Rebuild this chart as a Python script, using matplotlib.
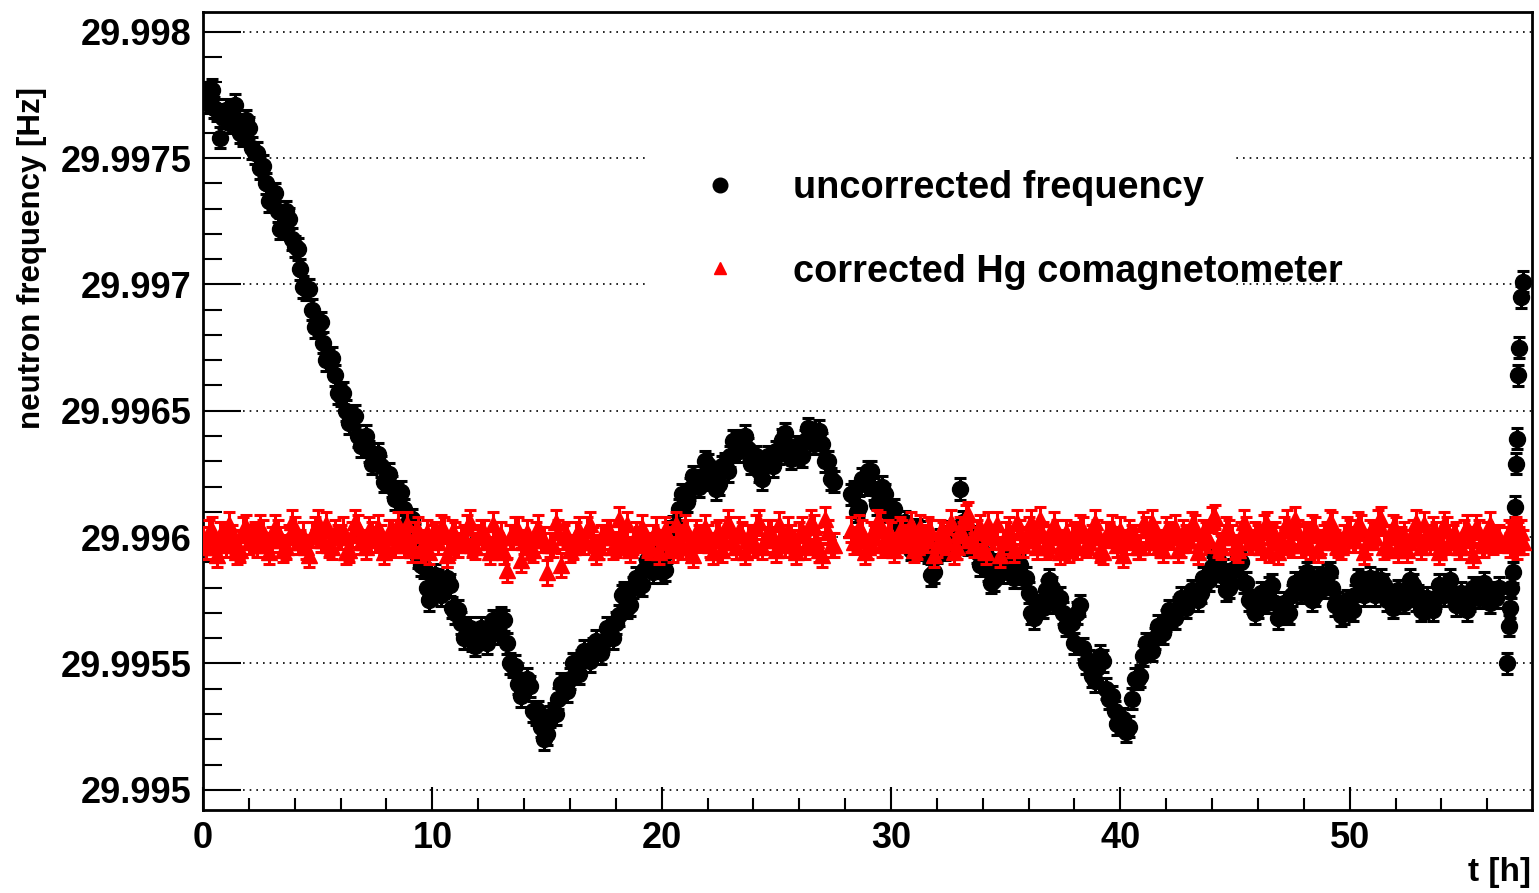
import matplotlib
matplotlib.use("Agg")
import matplotlib.pyplot as plt
from matplotlib.lines import Line2D
from matplotlib.patches import Rectangle
from matplotlib.ticker import MultipleLocator, FuncFormatter
import numpy as np

# time of each cycle [h]  (first set of cycles)
t_hours = [
    0.0, 0.25, 0.5, 0.75, 1.0, 1.25, 1.5, 1.75, 2.0, 2.25,
    2.5, 2.75, 3.0, 3.25, 3.5, 3.75, 4.0, 4.25, 4.5, 4.75,
    5.0, 5.25, 5.5, 5.75, 6.0, 6.25, 6.5, 6.75, 7.0, 7.25,
    7.5, 7.75, 8.0, 8.25, 8.5, 8.75, 9.0, 9.25, 9.5, 9.75,
    10.0, 10.25, 10.5, 10.75, 11.0, 11.25, 11.5, 11.75, 12.0, 12.25,
    12.5, 12.75, 13.0, 13.25, 13.5, 13.75, 14.0, 14.25, 14.5, 14.75,
    15.0, 15.25, 15.5, 15.75, 16.0, 16.25, 16.5, 16.75, 17.0, 17.25,
    17.5, 17.75, 18.0, 18.25, 18.5, 18.75, 19.0, 19.25, 19.5, 19.75,
    20.0, 20.25, 20.5, 20.75, 21.0, 21.25, 21.5, 21.75, 22.0, 22.25,
    22.5, 22.75, 23.0, 23.25, 23.5, 23.75, 24.0, 24.25, 24.5, 24.75,
    25.0, 25.25, 25.5, 25.75, 26.0, 26.25, 26.5, 26.75, 27.0, 27.25,
    27.5,
    28.25, 28.5, 28.75, 29.0, 29.25, 29.5, 29.75, 30.0, 30.25, 30.5,
    30.75, 31.0, 31.25, 31.5, 31.75, 32.0, 32.25, 32.5, 32.75, 33.0,
    33.25, 33.5, 33.75, 34.0, 34.25, 34.5, 34.75, 35.0, 35.25, 35.5,
    35.75, 36.0, 36.25, 36.5, 36.75, 37.0, 37.25, 37.5, 37.75, 38.0,
    38.25, 38.5, 38.75, 39.0, 39.25, 39.5, 39.75, 40.0, 40.25, 40.5,
    40.75, 41.0, 41.25, 41.5, 41.75, 42.0, 42.25, 42.5, 42.75, 43.0,
    43.25, 43.5, 43.75, 44.0, 44.25, 44.5, 44.75, 45.0, 45.25, 45.5,
    45.75, 46.0, 46.25, 46.5, 46.75, 47.0, 47.25, 47.5, 47.75, 48.0,
    48.25, 48.5, 48.75, 49.0, 49.25, 49.5, 49.75, 50.0, 50.25, 50.5,
    50.75, 51.0, 51.25, 51.5, 51.75, 52.0, 52.25, 52.5, 52.75, 53.0,
    53.25, 53.5, 53.75, 54.0, 54.25, 54.5, 54.75, 55.0, 55.25, 55.5,
    55.75, 56.0, 56.25, 56.5,
    56.85, 56.95, 57.0, 57.05, 57.1, 57.2, 57.25, 57.3, 57.35, 57.4, 57.45, 57.55,
]

# second set of cycles, in between the first ones
t_hours_b = [
    0.125, 0.375, 0.625, 0.875, 1.125, 1.375, 1.625, 1.875, 2.125, 2.375,
    2.625, 2.875, 3.125, 3.375, 3.625, 3.875, 4.125, 4.375, 4.625, 4.875,
    5.125, 5.375, 5.625, 5.875, 6.125, 6.375, 6.625, 6.875, 7.125, 7.375,
    7.625, 7.875, 8.125, 8.375, 8.625, 8.875, 9.125, 9.375, 9.625, 9.875,
    10.125, 10.375, 10.625, 10.875, 11.125, 11.375, 11.625, 11.875, 12.125, 12.375,
    12.625, 12.875, 13.125, 13.375, 13.625, 13.875, 14.125, 14.375, 14.625, 14.875,
    15.125, 15.375, 15.625, 15.875, 16.125, 16.375, 16.625, 16.875, 17.125, 17.375,
    17.625, 17.875, 18.125, 18.375, 18.625, 18.875, 19.125, 19.375, 19.625, 19.875,
    20.125, 20.375, 20.625, 20.875, 21.125, 21.375, 21.625, 21.875, 22.125, 22.375,
    22.625, 22.875, 23.125, 23.375, 23.625, 23.875, 24.125, 24.375, 24.625, 24.875,
    25.125, 25.375, 25.625, 25.875, 26.125, 26.375, 26.625, 26.875, 27.125, 27.375,
    28.375, 28.625, 28.875, 29.125, 29.375, 29.625, 29.875, 30.125, 30.375, 30.625,
    30.875, 31.125, 31.375, 31.625, 31.875, 32.125, 32.375, 32.625, 32.875, 33.125,
    33.375, 33.625, 33.875, 34.125, 34.375, 34.625, 34.875, 35.125, 35.375, 35.625,
    35.875, 36.125, 36.375, 36.625, 36.875, 37.125, 37.375, 37.625, 37.875, 38.125,
    38.375, 38.625, 38.875, 39.125, 39.375, 39.625, 39.875, 40.125, 40.375, 40.625,
    40.875, 41.125, 41.375, 41.625, 41.875, 42.125, 42.375, 42.625, 42.875, 43.125,
    43.375, 43.625, 43.875, 44.125, 44.375, 44.625, 44.875, 45.125, 45.375, 45.625,
    45.875, 46.125, 46.375, 46.625, 46.875, 47.125, 47.375, 47.625, 47.875, 48.125,
    48.375, 48.625, 48.875, 49.125, 49.375, 49.625, 49.875, 50.125, 50.375, 50.625,
    50.875, 51.125, 51.375, 51.625, 51.875, 52.125, 52.375, 52.625, 52.875, 53.125,
    53.375, 53.625, 53.875, 54.125, 54.375, 54.625, 54.875, 55.125, 55.375, 55.625,
    55.875, 56.125, 56.375,
]

# uncorrected neutron frequency, offset from 29.996 Hz in micro-Hz
uncorr_uhz = [
    1750, 1760, 1700, 1580, 1690, 1680, 1650, 1590, 1620, 1520,
    1460, 1400, 1340, 1290, 1230, 1260, 1150, 1060, 980, 900,
    840, 770, 700, 640, 560, 500, 470, 400, 380, 340,
    310, 280, 230, 200, 170, 110, 60, 10, -110, -200,
    -220, -170, -200, -190, -300, -340, -380, -410, -390, -400,
    -370, -350, -320, -420, -510, -580, -600, -590, -700, -750,
    -780, -700, -640, -590, -560, -520, -490, -470, -440, -440,
    -410, -380, -340, -230, -280, -200, -180, -130, -110, -90,
    -140, -60, 40, 110, 150, 190, 220, 240, 285, 240,
    210, 290, 320, 370, 380, 350, 310, 260, 280, 300,
    340, 385, 360, 330, 330, 380, 410, 400, 370, 300,
    220,
    170, 100, 230, 260, 190, 150, 170, 100, 60, 40,
    10, -30, 20, -40, -150, -60, -20, 0, -40, 190,
    40, -20, -60, -80, -130, -170, -120, -90, -110, -140,
    -160, -220, -320, -280, -210, -200, -250, -300, -330, -420,
    -270, -500, -550, -520, -490, -640, -690, -730, -770, -640,
    -560, -470, -440, -400, -370, -330, -310, -280, -260, -250,
    -230, -220, -160, -120, -90, -150, -200, -130, -100, -180,
    -260, -280, -240, -200, -260, -300, -290, -230, -200, -160,
    -190, -230, -170, -150, -200, -260, -300, -280, -230, -180,
    -200, -180, -210, -190, -230, -260, -240, -210, -190, -230,
    -280, -270, -240, -210, -190, -220, -240, -260, -250, -210,
    -200, -230, -220, -200,
    -500, -350, -280, -200, -140, 120, 290, 390, 640, 750, 950, 1010,
]

uncorr_uhz_b = [
    1720, 1770, 1690, 1660, 1640, 1710, 1600, 1650, 1540, 1520,
    1470, 1330, 1360, 1220, 1290, 1180, 1140, 990, 980, 830,
    850, 700, 710, 570, 570, 450, 480, 360, 400, 290,
    330, 220, 250, 150, 180, 50, 70, -80, -120, -250,
    -150, -230, -160, -280, -290, -400, -360, -430, -360, -420,
    -330, -380, -330, -500, -510, -630, -560, -690, -690, -800,
    -710, -700, -580, -610, -500, -540, -450, -490, -410, -460,
    -360, -400, -310, -220, -270, -160, -190, -90, -140, -80,
    -130, 20, 40, 170, 140, 240, 200, 300, 230, 190,
    280, 260, 380, 340, 400, 290, 320, 230, 320, 280,
    330, 410, 310, 360, 320, 430, 370, 420, 300, 230,
    180, 120, 210, 260, 130, 200, 100, 110, 10, 60,
    -50, 30, -50, -60, -140, -10, -50, 20, 0, 60,
    -30, 0, -110, -70, -180, -110, -140, -60, -160, -110,
    -160, -300, -270, -280, -170, -260, -240, -350, -340, -300,
    -440, -490, -570, -470, -600, -630, -740, -720, -750, -560,
    -550, -420, -450, -350, -380, -290, -320, -240, -280, -210,
    -250, -160, -170, -70, -150, -210, -130, -80, -180, -250,
    -300, -220, -260, -190, -320, -260, -300, -180, -220, -140,
    -250, -160, -200, -140, -270, -310, -250, -290, -170, -230,
    -160, -230, -170, -250, -280, -210, -260, -170, -250, -290,
    -240, -290, -190, -230, -170, -270, -220, -290, -200, -240,
    -180, -260, -240,
]

# Hg-comagnetometer corrected frequency, offset from 29.996 Hz in micro-Hz
corr_uhz = [
    -10, 20, -40, 10, -30, 0, -60, 30, -20, 10,
    40, -30, -10, 20, -50, 0, 30, -20, -40, 10,
    60, -10, -30, 20, 0, -60, 10, 40, -20, 30,
    -10, 0, -40, 20, 50, -30, -10, 10, -50, 20,
    0, -20, 30, -40, 10, -10, 40, -30, 0, 20,
    -60, -20, 10, -130, 0, 30, -20, -40, 10, -10,
    -140, -30, 20, 0, -50, 10, -20, 30, -10, -40,
    0, 20, -30, 10, 50, -20, -10, 0, -40, 30,
    -20, 10, -50, 0, 40, -30, 20, -10, 0, -60,
    20, -20, 30, -40, 10, 0, -30, 60, -10, 20,
    -50, 0, 30, -20, 10, -40, 60, -10, -70, 20,
    -30,
    30, -10, 20, -40, 0, 50, -20, 10, -30, 20,
    0, -50, 40, -10, 20, -30, 10, -20, -60, 30,
    80, -10, 20, -40, 50, 0, -70, 10, -20, 60,
    -30, 30, -10, 70, -40, 0, 20, -20, -50, 10,
    40, -30, 0, 20, -60, 10, -10, 30, -20, 0,
    -40, 50, -20, 10, -30, 30, 0, -50, 20, -10,
    40, -20, 10, 70, -30, 0, 20, -40, 10, 30,
    -20, 0, 40, -50, 10, -10, 60, -30, 20, 0,
    -40, 30, -20, 10, 50, -30, 0, 20, -10, 40,
    -20, 10, 60, -40, 0, 30, -10, -50, 20, 0,
    50, -20, 10, -30, 30, 0, -40, 20, -10, 40,
    -30, 10, -20, 0,
    -10, 20, -30, 10, 0, -20, 30, -40, 10, -10, 20, -20,
]

corr_uhz_b = [
    -40, 30, -70, 10, 50, -20, -50, 40, 0, -30,
    20, -60, 40, -10, -40, 60, -20, 10, -70, 30,
    -10, 50, -40, 0, 30, -50, 60, -20, -40, 10,
    40, -60, 20, -30, 0, 50, -50, 30, -20, -60,
    10, 40, -70, 20, -30, 0, 60, -40, 20, -20,
    50, -30, -60, 0, 30, -90, 20, -50, 40, -10,
    -30, 60, -110, 10, -40, 30, -20, 50, -60, 0,
    20, -40, 70, -20, -50, 10, 40, -30, 0, -60,
    30, -10, 50, -40, 20, -70, 0, 40, -30, 10,
    -50, 60, -20, 30, -60, 0, 40, -40, 20, -10,
    50, -30, 0, -60, 30, -20, 40, -50, 70, -30,
    -20, 40, -60, 10, 60, -30, 20, -50, 30, -10,
    50, -40, 0, 30, -70, 20, -20, 60, -40, 10,
    90, -30, 40, -60, 0, 50, -20, 30, -50, 20,
    -10, 60, -40, 10, -30, 50, -60, 20, 0, -40,
    30, -20, 60, -50, 10, 40, -30, -70, 20, 0,
    -40, 30, 60, -20, -50, 10, 40, -30, 0, 50,
    -60, 20, -10, 80, -40, 30, 0, -50, 60, -20,
    10, -40, 50, 0, -60, 30, -20, 70, -30, 10,
    40, -50, 0, 60, -20, -40, 30, -10, 50, -60,
    20, 0, 70, -30, 40, -50, 10, -20, 60, -40,
    0, 30, -60, 50, -20, 10, -40, 40, -70, 20,
    -30, 50, -10,
]

base_freq = 29.996
err_uncorr = 42e-6
err_corr = 48e-6

t = np.array(t_hours + t_hours_b)
f_uncorr = base_freq + np.array(uncorr_uhz + uncorr_uhz_b) * 1e-6
f_corr = base_freq + np.array(corr_uhz + corr_uhz_b) * 1e-6

plt.rcParams['font.family'] = ['Liberation Sans', 'DejaVu Sans']
plt.rcParams['font.weight'] = 'bold'

fig = plt.figure(figsize=(15.39, 8.93), dpi=100)
ax = fig.add_axes([203 / 1539, 1 - 810 / 893, (1532 - 203) / 1539, (810 - 12) / 893])

ax.errorbar(t, f_uncorr, yerr=err_uncorr, fmt='o', color='black', ms=11.5,
            elinewidth=2.2, capsize=4, capthick=2.2, zorder=3)
ax.errorbar(t, f_corr, yerr=err_corr, fmt='^', color='#ff0000', ms=11.5,
            elinewidth=2.2, capsize=4, capthick=2.2, zorder=4)

ax.set_xlim(0, 57.95)
ax.set_ylim(29.99492, 29.998078)

ax.xaxis.set_major_locator(MultipleLocator(10))
ax.xaxis.set_minor_locator(MultipleLocator(2))
ax.yaxis.set_major_locator(MultipleLocator(0.0005))
ax.yaxis.set_minor_locator(MultipleLocator(0.0001))
ax.yaxis.set_major_formatter(FuncFormatter(lambda v, p: f'{v:.4f}'.rstrip('0')))

ax.tick_params(axis='both', which='both', direction='in', width=1.5,
               labelsize=26, top=False, right=False)
ax.tick_params(axis='y', which='major', length=27, pad=8)
ax.tick_params(axis='y', which='minor', length=14)
ax.tick_params(axis='x', which='major', length=16.5, pad=8)
ax.tick_params(axis='x', which='minor', length=8.5)
for lab in ax.get_xticklabels() + ax.get_yticklabels():
    lab.set_fontweight('bold')

ax.set_axisbelow(True)
ax.yaxis.grid(True, which='major', color='black', linestyle=(0, (1, 3)), linewidth=1.2)

for s in ax.spines.values():
    s.set_linewidth(2)

# white legend box (text runs past it, as in the original)
ax.add_patch(Rectangle((648 / 1539, 1 - 300 / 893), (1232 - 648) / 1539, 165 / 893,
                       transform=fig.transFigure, facecolor='white', edgecolor='none',
                       zorder=1, clip_on=False))

handles = [Line2D([], [], marker='o', color='black', ls='none', ms=10.5),
           Line2D([], [], marker='^', color='#ff0000', ls='none', ms=9)]
leg = ax.legend(handles, ['uncorrected frequency', 'corrected Hg comagnetometer'],
                loc='center left', bbox_to_anchor=(689.5 / 1539, 1 - 230 / 893),
                bbox_transform=fig.transFigure, frameon=False, fontsize=27.3,
                handlelength=1.61, handletextpad=1.12, labelspacing=1.24,
                borderpad=0, borderaxespad=0)
for txt in leg.get_texts():
    txt.set_fontweight('bold')
leg.set_zorder(10)

fig.text(32 / 1539, 1 - 258 / 893, 'neutron frequency [Hz]', rotation=90,
         ha='center', va='center', fontsize=22.5, fontweight='bold')
fig.text(1531 / 1539, 1 - 873 / 893, 't [h]', ha='right', va='center',
         fontsize=24, fontweight='bold')

fig.savefig('out.png', dpi=100)
